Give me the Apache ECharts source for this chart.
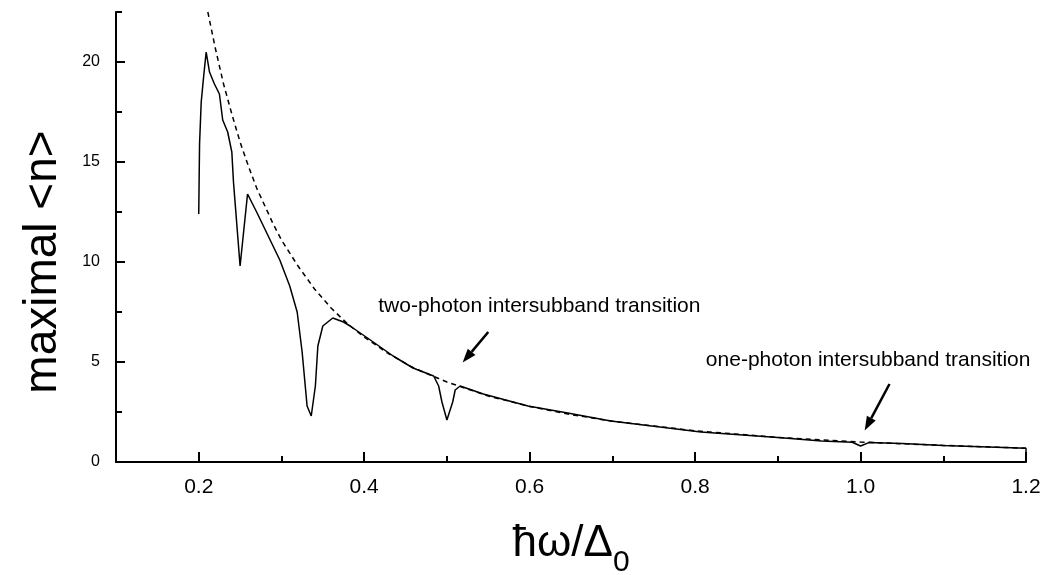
<!DOCTYPE html>
<html>
<head>
<meta charset="utf-8">
<script src="https://cdn.jsdelivr.net/npm/echarts@6/dist/echarts.min.js"></script>
<style>
html, body { margin: 0; padding: 0; background: #fff; }
#main { width: 1056px; height: 575px; }
</style>
</head>
<body>
<div id="main"></div>
<script>
// tick positions
const xMajorTicks = [0.2, 0.4, 0.6, 0.8, 1.0, 1.2]
const xMinorTicks = [0.3, 0.5, 0.7, 0.9, 1.1]
const yMajorTicks = [0, 5, 10, 15, 20]
const yMinorTicks = [2.5, 7.5, 12.5, 17.5, 22.5]

// dashed envelope
const envelope = [
	[0.211, 22.5], [0.22, 20.7], [0.23, 18.9], [0.24, 17.4], [0.25, 16.0], [0.26, 14.8],
	[0.27, 13.7], [0.28, 12.8], [0.29, 11.9], [0.30, 11.1], [0.32, 9.8], [0.34, 8.65],
	[0.36, 7.7], [0.38, 6.9], [0.40, 6.25], [0.43, 5.4], [0.46, 4.7], [0.50, 4.0],
	[0.55, 3.3], [0.60, 2.78], [0.65, 2.37], [0.70, 2.04], [0.80, 1.56], [0.90, 1.23],
	[1.00, 1.0], [1.10, 0.83], [1.20, 0.69],
]

// solid curve (maximal <n>)
const maximalN = [
	[0.200, 12.4], [0.201, 15.9], [0.203, 18.0], [0.206, 19.3], [0.209, 20.5], [0.213, 19.5],
	[0.219, 18.9], [0.225, 18.4], [0.229, 17.1], [0.235, 16.5], [0.240, 15.5], [0.242, 14.0],
	[0.250, 9.8], [0.259, 13.4], [0.270, 12.5], [0.284, 11.3], [0.298, 10.1], [0.310, 8.8],
	[0.319, 7.5], [0.325, 5.5], [0.331, 2.8], [0.336, 2.3], [0.341, 3.8], [0.344, 5.8],
	[0.350, 6.8], [0.362, 7.2], [0.375, 7.0], [0.383, 6.8], [0.404, 6.2], [0.435, 5.3],
	[0.459, 4.7], [0.484, 4.3], [0.490, 3.8], [0.494, 3.0], [0.500, 2.1], [0.507, 3.0],
	[0.510, 3.6], [0.516, 3.8], [0.544, 3.4], [0.598, 2.8], [0.646, 2.45], [0.698, 2.05],
	[0.807, 1.5], [0.900, 1.22], [0.953, 1.05], [0.990, 0.99], [1.000, 0.8], [1.010, 0.97],
	[1.050, 0.92], [1.100, 0.83], [1.200, 0.69], [1.200, 0],
]

// annotations (data coords)
const twoPhotonLabel = [0.417, 7.8]
const twoPhotonArrow = [[0.550, 6.5], [0.519, 4.97]]
const onePhotonLabel = [0.813, 5.1]
const onePhotonArrow = [[1.035, 3.9], [1.005, 1.58]]

const FONT = '"Liberation Sans", Arial, sans-serif'

const chart = echarts.init(document.getElementById('main'))

const tickStyle = { color: '#000', width: 2 }

chart.setOption({
	animation: false,
	backgroundColor: '#fff',
	grid: { left: 116, right: 30, top: 12, bottom: 113, containLabel: false, outerBoundsMode: 'none' },
	xAxis: [
		{
			type: 'value',
			min: 0.1,
			max: 1.2,
			name: '{a|ħω/Δ}{s|0}',
			nameLocation: 'middle',
			nameGap: 48,
			nameTextStyle: {
				rich: {
					a: { fontSize: 44, fontFamily: FONT, color: '#000' },
					s: { fontSize: 30, fontFamily: FONT, color: '#000', verticalAlign: 'bottom', padding: [38, 0, 0, 0] },
				},
			},
			axisLine: { lineStyle: { color: '#000', width: 2 } },
			axisTick: { inside: true, length: 10, lineStyle: tickStyle, customValues: xMajorTicks },
			axisLabel: {
				customValues: xMajorTicks,
				formatter: (v) => v.toFixed(1),
				fontSize: 21,
				fontFamily: FONT,
				color: '#000',
				margin: 15,
			},
			splitLine: { show: false },
		},
		{
			type: 'value',
			position: 'bottom',
			min: 0.1,
			max: 1.2,
			axisLine: { show: false },
			axisTick: { inside: true, length: 6, lineStyle: tickStyle, customValues: xMinorTicks },
			axisLabel: { show: false },
			splitLine: { show: false },
		},
	],
	yAxis: [
		{
			type: 'value',
			min: 0,
			max: 22.5,
			name: 'maximal <n>',
			nameLocation: 'middle',
			nameGap: 50,
			nameTextStyle: { fontSize: 46, fontFamily: FONT, color: '#000', padding: [0, 50, 0, 0] },
			axisLine: { lineStyle: { color: '#000', width: 2 } },
			axisTick: { inside: true, length: 9, lineStyle: tickStyle, customValues: yMajorTicks },
			axisLabel: {
				customValues: yMajorTicks,
				fontSize: 16,
				fontFamily: FONT,
				color: '#000',
				margin: 16,
			},
			splitLine: { show: false },
		},
		{
			type: 'value',
			position: 'left',
			min: 0,
			max: 22.5,
			axisLine: { show: false },
			axisTick: { inside: true, length: 6, lineStyle: tickStyle, customValues: yMinorTicks },
			axisLabel: { show: false },
			splitLine: { show: false },
		},
	],
	series: [
		{
			name: 'envelope',
			type: 'line',
			data: envelope,
			symbol: 'none',
			clip: true,
			lineStyle: { color: '#000', width: 1.5, type: [5, 4] },
			z: 2,
		},
		{
			name: 'maximal <n>',
			type: 'line',
			data: maximalN,
			symbol: 'none',
			clip: true,
			lineStyle: { color: '#000', width: 1.5 },
			z: 3,
		},
	],
})

const toPx = (p) => chart.convertToPixel({ gridIndex: 0 }, p)

function arrow(from, to) {
	const p0 = toPx(from), p1 = toPx(to)
	const dx = p1[0] - p0[0], dy = p1[1] - p0[1]
	const len = Math.hypot(dx, dy)
	const ux = dx / len, uy = dy / len
	const hl = 14, hw = 5
	const bx = p1[0] - ux * hl, by = p1[1] - uy * hl
	return [
		{ type: 'line', shape: { x1: p0[0], y1: p0[1], x2: bx, y2: by }, style: { stroke: '#000', lineWidth: 2.5 } },
		{
			type: 'polygon',
			shape: { points: [[p1[0], p1[1]], [bx - uy * hw, by + ux * hw], [bx + uy * hw, by - ux * hw]] },
			style: { fill: '#000' },
		},
	]
}

function label(text, at) {
	const p = toPx(at)
	return {
		type: 'text',
		x: p[0],
		y: p[1],
		style: { text, fontSize: 21, fontFamily: FONT, fill: '#000', verticalAlign: 'middle' },
	}
}

chart.setOption({
	graphic: [
		label('two-photon intersubband transition', twoPhotonLabel),
		...arrow(twoPhotonArrow[0], twoPhotonArrow[1]),
		label('one-photon intersubband transition', onePhotonLabel),
		...arrow(onePhotonArrow[0], onePhotonArrow[1]),
	],
})
</script>
</body>
</html>
